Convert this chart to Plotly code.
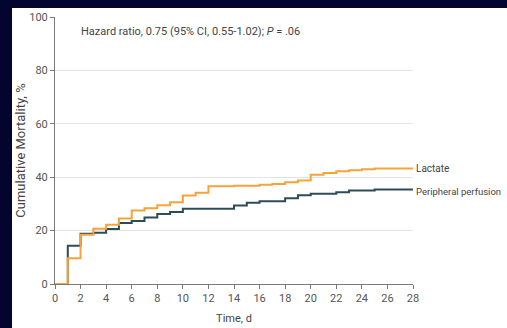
import plotly.graph_objects as go

# Kaplan-Meier style cumulative mortality (%) by day
days_lactate = [0, 1, 2, 3, 4, 5, 6, 7, 8, 9, 10, 11, 12, 14, 16, 17, 18, 19, 20, 21, 22, 23, 24, 25, 28]
mort_lactate = [0, 9.6, 18.4, 20.7, 22.2, 24.5, 27.5, 28.4, 29.5, 30.6, 33.1, 34.2, 36.6, 36.8, 37.2, 37.5, 38.1, 38.8, 40.9, 41.6, 42.2, 42.6, 43.0, 43.3, 43.3]

days_perf = [0, 1, 2, 3, 4, 5, 6, 7, 8, 9, 10, 14, 15, 16, 18, 19, 20, 22, 23, 25, 28]
mort_perf = [0, 14.3, 18.8, 19.2, 20.6, 22.8, 23.6, 24.9, 26.2, 27.0, 28.2, 29.4, 30.4, 31.0, 32.1, 33.2, 33.8, 34.4, 35.0, 35.4, 35.4]

x_ticks = list(range(0, 29, 2))
y_ticks = [0, 20, 40, 60, 80, 100]

ORANGE = "#F5A33A"
TEAL = "#2E4B58"
NAVY = "#03052E"
GRAY_TXT = "#555555"
FONT = "Roboto, Liberation Sans, sans-serif"

W, H = 507, 328
ML, MR, MT, MB = 55, 94, 17, 44
PW, PH = W - ML - MR, H - MT - MB

fig = go.Figure()
fig.add_trace(go.Scatter(x=days_perf, y=mort_perf, mode="lines", line_shape="hv",
                         line=dict(color=TEAL, width=2), name="Peripheral perfusion",
                         cliponaxis=False))
fig.add_trace(go.Scatter(x=days_lactate, y=mort_lactate, mode="lines", line_shape="hv",
                         line=dict(color=ORANGE, width=2), name="Lactate",
                         cliponaxis=False))

# end-of-line labels
fig.add_annotation(x=28, y=mort_lactate[-1], text="Lactate", xref="x", yref="y",
                   xanchor="left", yanchor="middle", showarrow=False, xshift=1,
                   font=dict(family=FONT, size=10, color="#444444"))
fig.add_annotation(x=28, y=mort_perf[-1], text="Peripheral perfusion", xref="x", yref="y",
                   xanchor="left", yanchor="middle", showarrow=False, xshift=1, yshift=-2,
                   font=dict(family=FONT, size=9.5, color="#444444"))

# hazard ratio note
fig.add_annotation(x=0.068, y=0.945, xref="paper", yref="paper", xanchor="left", yanchor="middle",
                   text="Hazard ratio, 0.75 (95% CI, 0.55-1.02); <i>P</i> = .06", showarrow=False,
                   font=dict(family=FONT, size=11, color="#444444"))

# dark frame strips along the top and left edges of the page
x_left = -ML / PW
x_right = (W - ML) / PW
y_bot = -MB / PH
y_top = (H - MB) / PH
fig.add_shape(type="rect", xref="paper", yref="paper", x0=x_left, x1=(12 - ML) / PW,
              y0=y_bot, y1=y_top, fillcolor=NAVY, line=dict(width=0), layer="below")
fig.add_shape(type="rect", xref="paper", yref="paper", x0=x_left, x1=x_right,
              y0=(H - MB - 8) / PH, y1=y_top, fillcolor=NAVY, line=dict(width=0), layer="below")

fig.update_xaxes(range=[0, 28], tickvals=x_ticks, showgrid=False, zeroline=False,
                 showline=True, linecolor="#7a7a7a", linewidth=1, automargin=False,
                 ticks="outside", ticklen=4, tickcolor="#7a7a7a",
                 tickfont=dict(family=FONT, size=11, color=GRAY_TXT),
                 title=dict(text="Time, d", standoff=10,
                            font=dict(family=FONT, size=11, color="#444444")))
fig.update_yaxes(range=[0, 100], tickvals=y_ticks, showgrid=True, gridcolor="#E4E4E4", gridwidth=1,
                 zeroline=False, showline=True, linecolor="#7a7a7a", linewidth=1, automargin=False,
                 ticks="outside", ticklen=4, tickcolor="#7a7a7a",
                 tickfont=dict(family=FONT, size=11, color=GRAY_TXT),
                 title=dict(text="Cumulative Mortality, %", standoff=0,
                            font=dict(family=FONT, size=13, color="#444444")))

fig.update_layout(width=W, height=H, paper_bgcolor="white", plot_bgcolor="white",
                  margin=dict(l=ML, r=MR, t=MT, b=MB), showlegend=False)

fig.write_html("out.html")
